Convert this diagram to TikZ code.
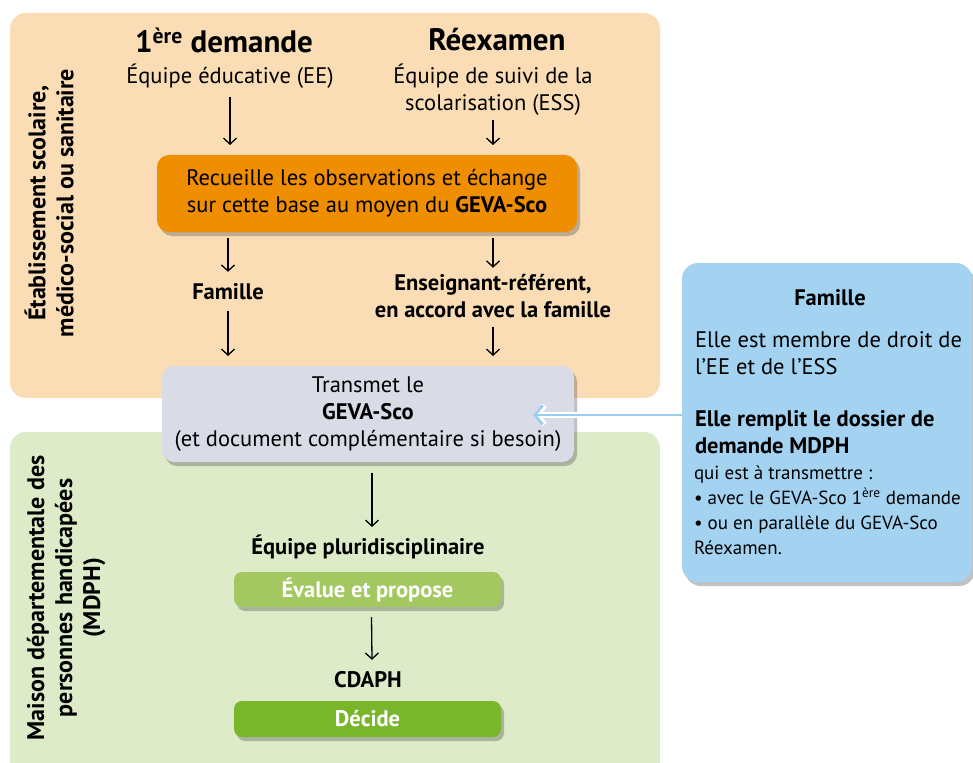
\documentclass[tikz,border=0pt]{standalone}
\usepackage{fontspec}
\setmainfont{PT Sans}
\usetikzlibrary{arrows.meta,shadows}
\definecolor{peach}{HTML}{FADDB4}
\definecolor{lgreen}{HTML}{DEEBC9}
\definecolor{orangebox}{HTML}{EF8E00}
\definecolor{graybox}{HTML}{D9DBE7}
\definecolor{bluebox}{HTML}{A4D3F1}
\definecolor{greenA}{HTML}{A3C861}
\definecolor{greenB}{HTML}{79B62B}
\definecolor{arrowblue}{HTML}{9CCDEE}
\begin{document}
\begin{tikzpicture}[x=1pt,y=-1pt,
  every node/.style={inner sep=0pt, outer sep=0pt},
  body/.style={font=\fontsize{22.5}{27}\selectfont, align=center},
  bodyb/.style={font=\fontsize{22.5}{27}\selectfont\bfseries, align=center},
  small/.style={font=\fontsize{19}{25}\selectfont, align=left},
  titlet/.style={font=\fontsize{31}{34}\selectfont\bfseries},
  side/.style={font=\fontsize{24}{28}\selectfont\bfseries, align=center, rotate=90},
  panel/.style={rounded corners=16pt},
  boxshadow/.style={drop shadow={shadow xshift=3pt, shadow yshift=-4pt, opacity=0.35, fill=black!70}},
  flowbox/.style={rounded corners=12pt, boxshadow},
  arr/.style={-{Straight Barb[length=6pt,width=13pt]}, line width=1.3pt, black},
  bluehalo/.style={white, line width=5.5pt, -{Straight Barb[length=8pt,width=19pt]}},
  bluearr/.style={arrowblue, line width=2.6pt, -{Straight Barb[length=8pt,width=19pt]}},
]
\useasboundingbox (0,0) rectangle (973,762);
\clip (0,0) rectangle (973,762);
% panels
\fill[peach, panel] (10,13) rectangle (660,398);
\fill[lgreen, panel] (10,432) rectangle (660,790);
% side labels
\node[side] (lab1) at (49,203) {Établissement scolaire,\\médico-social ou sanitaire};
\node[side] (lab2) at (66,598) {Maison départementale des\\personnes handicapées\\(MDPH)};
% titles
\node[titlet] (t1) at (224,40) {1\textsuperscript{ère} demande};
\node[titlet] (t2) at (497,40) {Réexamen};
\node[body] (ee) at (230,76) {Équipe éducative (EE)};
\node[body] (ess) at (493,89.5) {Équipe de suivi de la\\scolarisation (ESS)};
% orange box
\node[body, flowbox, fill=orangebox, minimum width=420pt, minimum height=77pt] (rec) at (367,193.5)
  {Recueille les observations et échange\\sur cette base au moyen du \textbf{GEVA-Sco}};
\node[bodyb] (fam) at (228,292) {Famille};
\node[bodyb] (ens) at (493,296.5) {Enseignant-référent,\\en accord avec la famille};
% gray box
\node[body, flowbox, fill=graybox, minimum width=412pt, minimum height=96pt] (gray) at (368,414)
  {Transmet le\\\textbf{GEVA-Sco}\\(et document complémentaire si besoin)};
\node[bodyb] (eq) at (368,547) {Équipe pluridisciplinaire};
\node[bodyb, text=white, flowbox, rounded corners=8pt, fill=greenA, minimum width=267pt, minimum height=35pt] (ev) at (367.5,589.5) {Évalue et propose};
\node[bodyb] (cd) at (368,680) {CDAPH};
\node[bodyb, text=white, flowbox, rounded corners=8pt, fill=greenB, minimum width=267pt, minimum height=36pt] (dec) at (367.5,719) {Décide};
% blue box
\node[flowbox, rounded corners=16pt, fill=bluebox, minimum width=290pt, minimum height=319pt] (blue) at (827,422.5) {};
\node[bodyb] (bt) at (830,298) {Famille};
\node[body, align=left, anchor=west] (bp1) at (695,353.5) {Elle est membre de droit de\\l’EE et de l’ESS};
\node[bodyb, align=left, anchor=west] (bp2) at (695,432) {Elle remplit le dossier de\\demande MDPH};
\node[small, anchor=west] (bp3) at (694,510) {qui est à transmettre :\\• avec le GEVA-Sco 1\textsuperscript{ère} demande\\• ou en parallèle du GEVA-Sco\\Réexamen.};
% arrows
\draw[arr] ([yshift=-9pt]ee.south) -- ([yshift=10pt]ee.south |- rec.north);
\draw[arr] ([yshift=-5pt]ess.south) -- ([yshift=10pt]ess.south |- rec.north);
\draw[arr] ([yshift=-6pt]rec.south -| fam.south) -- ([yshift=12pt]fam.north);
\draw[arr] ([yshift=-6pt]rec.south -| ens.south) -- ([yshift=7pt]ens.north);
\draw[arr] ([yshift=-11pt]fam.south) -- ([yshift=10pt]fam.south |- gray.north);
\draw[arr] ([yshift=-9pt]ens.south) -- ([yshift=10pt]ens.south |- gray.north);
\draw[arr] ([xshift=4pt,yshift=-11pt]gray.south) -- ([xshift=4pt,yshift=8pt]eq.north);
\draw[arr] ([xshift=4pt,yshift=-10pt]ev.south) -- ([xshift=4pt,yshift=12pt]cd.north);
\draw[bluehalo] ([yshift=-1pt]blue.west |- gray.east) -- ([xshift=-41pt,yshift=-1pt]gray.east);
\draw[bluearr] ([yshift=-1pt]blue.west |- gray.east) -- ([xshift=-41pt,yshift=-1pt]gray.east);
\end{tikzpicture}
\end{document}
